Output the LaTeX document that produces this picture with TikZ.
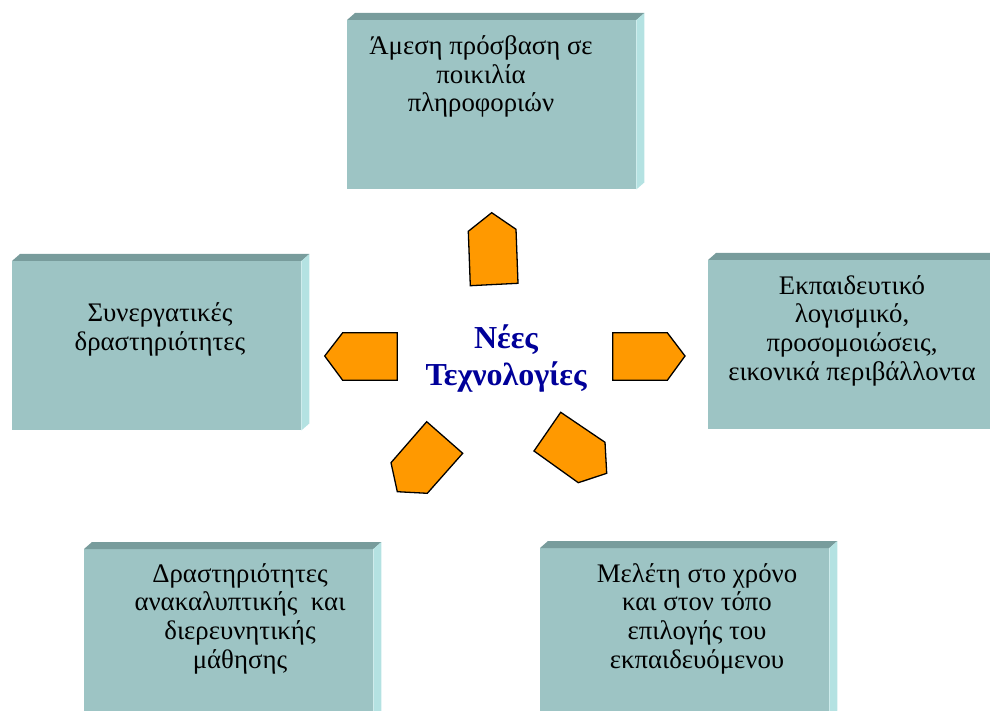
\documentclass[tikz,border=0pt]{standalone}
\usepackage{fontspec}
\setmainfont{Liberation Serif}
\usepackage{tikz}
\usetikzlibrary{positioning,calc}

\definecolor{panelfront}{RGB}{157,196,196}
\definecolor{paneltop}{RGB}{120,156,156}
\definecolor{panelside}{RGB}{180,226,226}
\definecolor{arroworange}{RGB}{255,153,0}
\definecolor{titleblue}{RGB}{0,0,153}

\tikzset{
  panel/.style={fill=panelfront, draw=none, inner sep=0pt, anchor=north west,
    minimum width=289pt, minimum height=169pt},
  paneltext/.style={align=center, anchor=base, inner sep=0pt,
    font=\fontsize{26.8}{28.6}\selectfont},
  pointer/.style={fill=arroworange, draw=black, line width=1.3pt, line join=miter}
}

% top face and right side of a panel
\newcommand{\bevel}[1]{%
  \fill[paneltop] (#1.north west) -- ++(8,-7) -- ($(#1.north east)+(8,-7)$) -- (#1.north east) -- cycle;
  \fill[panelside] (#1.north east) -- ++(8,-7) -- ($(#1.south east)+(8,-7)$) -- (#1.south east) -- cycle;
}

\begin{document}
\begin{tikzpicture}[x=1pt, y=-1pt]

\useasboundingbox (0,0) rectangle (990,711);

% =========================
% PANELS
% =========================
% (text nodes sit on the baseline of their last line)
\node[panel] (access) at (347,20) {};
\bevel{access}
\node[paneltext] (accesstxt) at (481,112) {Άμεση πρόσβαση σε\\ποικιλία\\πληροφοριών};

\node[panel] (collab) at (12,261) {};
\bevel{collab}
\node[paneltext] (collabtxt) at (160,350) {Συνεργατικές\\δραστηριότητες};

\node[panel] (software) at (708,260) {};
\bevel{software}
\node[paneltext] (softwaretxt) at (852,380) {Εκπαιδευτικό\\λογισμικό,\\προσομοιώσεις,\\εικονικά περιβάλλοντα};

\node[panel] (discover) at (84,549) {};
\bevel{discover}
\node[paneltext] (discovertxt) at (240,668) {Δραστηριότητες\\ανακαλυπτικής\ \ και\\διερευνητικής\\μάθησης};

\node[panel] (study) at (540,548) {};
\bevel{study}
\node[paneltext] (studytxt) at (697,668) {Μελέτη στο χρόνο\\και στον τόπο\\επιλογής του\\εκπαιδευόμενου};

% =========================
% CENTRE
% =========================
\node[align=center, anchor=base, inner sep=0pt, text=titleblue,
  font=\fontsize{32}{37}\selectfont\bfseries] (tech) at (506,385) {Νέες\\Τεχνολογίες};

% =========================
% BLOCK ARROWS
% =========================
% up
\draw[pointer] (470.3,285.7) -- (468.3,231.3) -- (491.7,212.7) -- (516,229.3) -- (518,283.3) -- cycle;
% left
\draw[pointer] (397.3,332.7) -- (342.7,332.7) -- (324.7,356) -- (342.7,380.3) -- (397.3,380.3) -- cycle;
% right
\draw[pointer] (612.7,332.7) -- (667.3,332.7) -- (685,356) -- (667.3,380.3) -- (612.7,380.3) -- cycle;
% down left
\draw[pointer] (426.7,421.7) -- (462.7,453.3) -- (427.3,493.3) -- (397.3,491.7) -- (391,462.7) -- cycle;
% down right
\draw[pointer] (560.7,412.3) -- (605,442.3) -- (606.7,473.3) -- (578.3,482.7) -- (534,451) -- cycle;

\end{tikzpicture}
\end{document}
